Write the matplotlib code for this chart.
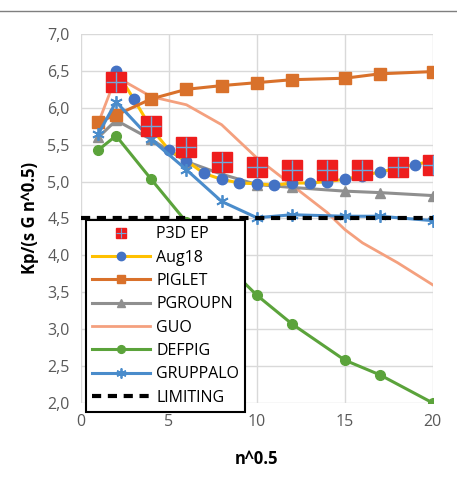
import numpy as np
import matplotlib
matplotlib.use("Agg")
import matplotlib.pyplot as plt
from matplotlib.lines import Line2D

plt.rcParams['font.family'] = ['Open Sans', 'DejaVu Sans']

# data
x_p3d = [2, 4, 6, 8, 10, 12, 14, 16, 18, 20]
y_p3d = [6.35, 5.75, 5.47, 5.27, 5.2, 5.16, 5.15, 5.16, 5.2, 5.22]

x_aug = [2, 3, 4, 5, 6, 7, 8, 9, 10, 11, 12, 13, 14, 15, 16, 17, 18, 19, 20]
y_aug = [6.5, 6.12, 5.72, 5.43, 5.28, 5.11, 5.03, 4.98, 4.97, 4.95, 4.98, 4.98, 5.0, 5.03, 5.08, 5.13, 5.18, 5.23, 5.28]

x_big = [1, 2, 4, 6, 8, 10, 12, 15, 17, 20]
y_piglet = [5.81, 5.9, 6.12, 6.25, 6.3, 6.34, 6.38, 6.4, 6.46, 6.49]
y_pgroupn = [5.6, 5.83, 5.57, 5.27, 5.1, 4.96, 4.92, 4.87, 4.85, 4.81]
y_defpig = [5.43, 5.62, 5.03, 4.45, 3.93, 3.46, 3.07, 2.58, 2.38, 2.0]
y_grupp = [5.65, 6.08, 5.57, 5.16, 4.73, 4.51, 4.55, 4.53, 4.53, 4.47]

x_guo = [1, 2, 4, 6, 8, 10, 12, 14, 15, 16, 18, 20]
y_guo = [5.8, 6.42, 6.15, 6.04, 5.77, 5.32, 4.95, 4.58, 4.35, 4.17, 3.9, 3.6]

x_lim = [0, 20]
y_lim = [4.5, 4.5]

fig = plt.figure(figsize=(4.57, 4.92), dpi=100)
ax = fig.add_axes([0.177, 0.181, 0.77, 0.75])

ax.plot(x_guo, y_guo, color='#F4A07E', lw=2, label='GUO', zorder=3)
ax.plot(x_big, y_defpig, color='#5BA33B', lw=2.2, marker='o', ms=7, label='DEFPIG', zorder=3)
ax.plot(x_big, y_pgroupn, color='#8F8F8F', lw=2.2, marker='^', ms=7, label='PGROUPN', zorder=3)
ax.plot(x_aug, y_aug, color='#FFC000', lw=2.2, marker='o', ms=7.5, mfc='#4472C4', mec='#4472C4', label='Aug18', zorder=4)
ax.plot(x_big, y_piglet, color='#D9712B', lw=2.2, marker='s', ms=8, label='PIGLET', zorder=4)
ax.plot(x_big, y_grupp, color='#4A8CCB', lw=2.2, marker=(6, 2, 0), ms=9, mew=1.3, label='GRUPPALO', zorder=4)
ax.plot(x_lim, y_lim, color='black', lw=3, ls=(0, (2.2, 1.6)), label='LIMITING', zorder=5)
ax.plot(x_p3d, y_p3d, ls='none', marker='s', ms=15, mfc='#EE1D1D', mec='#EE1D1D', zorder=6)
ax.plot(x_p3d, y_p3d, ls='none', marker='+', ms=15, mew=1.0, color='#6FA8DC', zorder=7)

ax.set_xlim(0, 20)
ax.set_ylim(2.0, 7.0)
ax.set_xticks([0, 5, 10, 15, 20])
ax.set_yticks(np.arange(2.0, 7.01, 0.5))
ax.set_yticklabels([('%.1f' % v).replace('.', ',') for v in np.arange(2.0, 7.01, 0.5)])
ax.grid(True, color='#D9D9D9', lw=1)
ax.set_axisbelow(True)
for s in ax.spines.values():
    s.set_visible(False)
ax.tick_params(length=0, labelsize=11.5, labelcolor='#595959', pad=8)
ax.set_xlabel('n^0.5', fontsize=12, fontweight='bold', labelpad=14)
ax.set_ylabel('Kp/(s G n^0.5)', fontsize=12, fontweight='bold', labelpad=6)

p3d_handle = Line2D([], [], ls='none', marker='s', ms=9, mfc='#EE1D1D', mec='#EE1D1D')
p3d_cross = Line2D([], [], ls='none', marker='+', ms=9, mew=0.8, color='#6FA8DC')
h, l = ax.get_legend_handles_labels()
d = dict(zip(l, h))
order = ['Aug18', 'PIGLET', 'PGROUPN', 'GUO', 'DEFPIG', 'GRUPPALO', 'LIMITING']
leg = ax.legend([(p3d_handle, p3d_cross)] + [d[k] for k in order], ['P3D EP'] + order,
                loc='upper left', bbox_to_anchor=(0.014, 0.496), borderaxespad=0,
                fontsize=11.5, handlelength=3.6, handletextpad=0.4, labelspacing=0.46,
                frameon=True, fancybox=False, edgecolor='black', framealpha=1,
                borderpad=0.4, markerscale=0.8)
leg.get_frame().set_linewidth(1.5)
leg.set_zorder(10)

fig.add_artist(Line2D([0, 1], [0.978, 0.978], color='#7F7F7F', lw=1))

fig.savefig('out.png', dpi=100)
